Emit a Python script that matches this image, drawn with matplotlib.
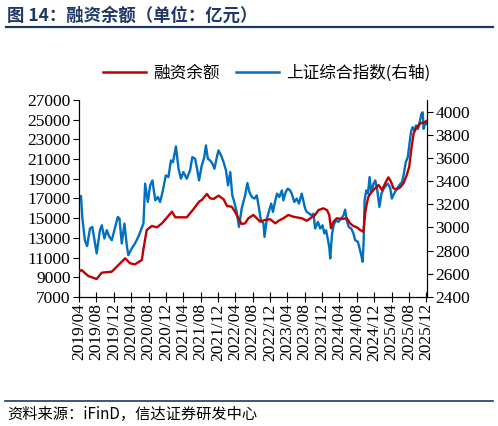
import matplotlib.pyplot as plt
import matplotlib.dates as mdates
import pandas as pd
from matplotlib.lines import Line2D

plt.rcParams['font.family'] = ['Liberation Serif', 'Noto Sans CJK SC']
CJK = ['Noto Sans CJK SC', 'DejaVu Sans']

# --- data ---
# 融资余额 (亿元), left axis
margin_dates = [
    "2019-04-01", "2019-04-19", "2019-06-05", "2019-08-03", "2019-09-08", "2019-11-17",
    "2020-01-03", "2020-02-19", "2020-03-24", "2020-04-28", "2020-06-15", "2020-06-25",
    "2020-07-19", "2020-08-24", "2020-09-28", "2020-11-03", "2021-01-12", "2021-02-05",
    "2021-04-26", "2021-06-11", "2021-07-21", "2021-08-09", "2021-09-14", "2021-10-07",
    "2021-10-30", "2021-12-05", "2022-01-09", "2022-02-02", "2022-03-07", "2022-03-30",
    "2022-04-23", "2022-05-16", "2022-06-09", "2022-07-02", "2022-08-06", "2022-08-30",
    "2022-09-22", "2022-10-27", "2022-12-02", "2023-01-07", "2023-01-30", "2023-03-04",
    "2023-04-08", "2023-05-13", "2023-07-11", "2023-08-16", "2023-09-09", "2023-10-13",
    "2023-11-06", "2023-12-10", "2024-01-04", "2024-01-20", "2024-02-01", "2024-02-19",
    "2024-03-13", "2024-04-17", "2024-05-22", "2024-06-14", "2024-07-07", "2024-08-01",
    "2024-08-24", "2024-09-16", "2024-09-28", "2024-10-10", "2024-10-21", "2024-11-14",
    "2024-12-07", "2024-12-31", "2025-01-24", "2025-02-21", "2025-03-10", "2025-03-28",
    "2025-04-14", "2025-05-08", "2025-06-01", "2025-06-24", "2025-07-17", "2025-08-03",
    "2025-08-17", "2025-09-03", "2025-09-27", "2025-10-20", "2025-11-12", "2025-12-05",
]
margin_vals = [
    9570, 9740, 9130, 8830, 9470, 9570,
    10250, 10930, 10420, 10320, 10760, 11770,
    13800, 14210, 14070, 14480, 15660, 15090,
    15090, 15900, 16680, 16850, 17460, 17020,
    16950, 17290, 16920, 16240, 16170, 15660,
    14990, 14410, 14480, 14990, 15330, 14990,
    14650, 14820, 14890, 14480, 14740, 14990,
    15330, 15150, 14990, 14740, 14990, 15330,
    15830, 16000, 15830, 15330, 13980, 14650,
    14990, 14920, 14990, 14480, 14210, 14070,
    13800, 13630, 15500, 16510, 17190, 17690,
    18040, 18370, 17860, 18710, 19150, 18710,
    18040, 17930, 18140, 18540, 19390, 20230,
    21920, 23620, 24290, 24630, 24700, 24900,
]

# 上证综合指数, right axis
index_dates = [
    "2019-04-01", "2019-04-15", "2019-04-24", "2019-05-12", "2019-05-28", "2019-06-17",
    "2019-07-03", "2019-07-17", "2019-08-03", "2019-08-26", "2019-09-08", "2019-09-26",
    "2019-10-13", "2019-10-31", "2019-11-17", "2019-12-05", "2019-12-29", "2020-01-10",
    "2020-01-26", "2020-02-14", "2020-03-01", "2020-03-12", "2020-04-05", "2020-04-28",
    "2020-05-21", "2020-06-08", "2020-06-26", "2020-07-08", "2020-07-27", "2020-08-12",
    "2020-08-28", "2020-09-17", "2020-10-05", "2020-10-21", "2020-11-07", "2020-11-30",
    "2020-12-18", "2021-01-05", "2021-01-19", "2021-02-09", "2021-02-27", "2021-03-16",
    "2021-04-02", "2021-04-26", "2021-05-19", "2021-06-04", "2021-06-23", "2021-07-05",
    "2021-07-21", "2021-08-09", "2021-08-27", "2021-09-07", "2021-09-21", "2021-10-07",
    "2021-10-23", "2021-11-06", "2021-11-23", "2021-12-04", "2021-12-23", "2022-01-09",
    "2022-01-26", "2022-02-09", "2022-02-25", "2022-03-11", "2022-03-25", "2022-04-11",
    "2022-04-27", "2022-05-16", "2022-06-09", "2022-06-25", "2022-07-09", "2022-07-26",
    "2022-08-14", "2022-08-30", "2022-09-11", "2022-09-28", "2022-10-16", "2022-10-23",
    "2022-11-09", "2022-11-25", "2022-12-09", "2022-12-21", "2023-01-07", "2023-01-19",
    "2023-02-04", "2023-02-22", "2023-03-04", "2023-03-21", "2023-04-04", "2023-04-20",
    "2023-05-02", "2023-05-20", "2023-06-06", "2023-06-22", "2023-07-11", "2023-07-22",
    "2023-08-04", "2023-08-16", "2023-09-02", "2023-09-16", "2023-10-02", "2023-10-13",
    "2023-11-02", "2023-11-18", "2023-12-04", "2023-12-17", "2023-12-29", "2024-01-11",
    "2024-01-20", "2024-01-27", "2024-02-09", "2024-02-20", "2024-03-06", "2024-03-24",
    "2024-04-13", "2024-04-29", "2024-05-11", "2024-05-22", "2024-06-04", "2024-06-22",
    "2024-07-08", "2024-07-20", "2024-08-08", "2024-08-17", "2024-08-29", "2024-09-10",
    "2024-09-17", "2024-09-24", "2024-10-06", "2024-10-18", "2024-10-29", "2024-11-10",
    "2024-11-26", "2024-12-08", "2024-12-22", "2025-01-06", "2025-01-20", "2025-02-05",
    "2025-02-22", "2025-03-06", "2025-03-22", "2025-04-03", "2025-04-19", "2025-05-08",
    "2025-05-24", "2025-06-13", "2025-06-24", "2025-07-10", "2025-07-24", "2025-08-03",
    "2025-08-15", "2025-08-26", "2025-09-08", "2025-09-20", "2025-10-04", "2025-10-13",
    "2025-10-27", "2025-11-05", "2025-11-12", "2025-11-24", "2025-12-05",
]
index_vals = [
    3263, 3272, 3091, 2890, 2839, 2991,
    3005, 2905, 2776, 2976, 3019, 2905,
    2976, 2919, 2890, 2976, 3091, 3077,
    2862, 3034, 2847, 2761, 2819, 2862,
    2919, 2976, 3034, 3378, 3220, 3363,
    3406, 3234, 3263, 3220, 3306, 3449,
    3435, 3578, 3564, 3699, 3507, 3421,
    3478, 3421, 3492, 3607, 3593, 3521,
    3406, 3535, 3607, 3708, 3593, 3578,
    3550, 3507, 3607, 3665, 3621, 3564,
    3492, 3363, 3478, 3277, 3220, 3134,
    3005, 3163, 3277, 3383, 3306, 3263,
    3249, 3277, 3191, 3062, 3034, 2919,
    3077, 3148, 3206, 3134, 3234, 3292,
    3263, 3320, 3234, 3306, 3335, 3320,
    3292, 3220, 3249, 3206, 3292, 3234,
    3163, 3134, 3120, 3105, 3120, 2991,
    3048, 2991, 3019, 2948, 2976, 2890,
    2833, 2733, 2948, 3019, 3062, 3048,
    3077, 3105, 3154, 3062, 3005, 2991,
    2948, 2890, 2876, 2833, 2776, 2704,
    2862, 3234, 3320, 3292, 3435, 3306,
    3378, 3406, 3320, 3177, 3292, 3335,
    3363, 3378, 3344, 3249, 3292, 3335,
    3363, 3392, 3449, 3564, 3607, 3708,
    3822, 3865, 3837, 3880, 3851, 3894,
    3980, 3994, 3851, 3908, 3894,
]

left_ticks = list(range(7000, 27001, 2000))
right_ticks = list(range(2400, 4001, 200))

RED = "#C00000"
BLUE = "#0070C0"
NAVY = "#1F3864"

fig = plt.figure(figsize=(4.98, 4.26), dpi=100)
ax = fig.add_axes([0.1586, 0.3028, 0.6995, 0.4625])
ax2 = ax.twinx()

ax.plot(pd.to_datetime(margin_dates), margin_vals, color=RED, lw=1.7, zorder=3)
ax2.plot(pd.to_datetime(index_dates), index_vals, color=BLUE, lw=1.7)
ax.set_zorder(ax2.get_zorder() + 1)
ax.patch.set_visible(False)

ax.set_xlim(pd.Timestamp("2019-04-01"), pd.Timestamp("2025-12-08"))
ax.set_ylim(7000, 27000)
ax2.set_ylim(2400, 4100)
ax.set_yticks(left_ticks)
ax2.set_yticks(right_ticks)

ax.xaxis.set_major_locator(mdates.MonthLocator(bymonth=[4, 8, 12]))
ax.xaxis.set_major_formatter(mdates.DateFormatter("%Y/%m"))
ax.tick_params(axis="x", direction="inout", length=7, width=0.8, labelsize=12.5,
               labelrotation=90, pad=1)
ax.tick_params(axis="y", direction="out", length=4, width=0.8, labelsize=12.5, pad=2)
ax2.tick_params(axis="y", direction="out", length=4, width=0.8, labelsize=12.5, pad=2)

for a in (ax, ax2):
    a.spines["top"].set_visible(False)
    for s in ("left", "right", "bottom"):
        a.spines[s].set_linewidth(0.8)

# legend
handles = [Line2D([], [], color=RED, lw=1.8), Line2D([], [], color=BLUE, lw=1.8)]
fig.legend(handles, ["融资余额", "上证综合指数(右轴)"], loc="center",
           bbox_to_anchor=(0.535, 0.829), ncol=2, frameon=False,
           prop={"family": CJK, "size": 12}, handlelength=2.6,
           handletextpad=0.4, columnspacing=1.0)

# title and source
fig.text(0.014, 0.964, "图 14：融资余额（单位：亿元）", family=CJK, fontsize=12.5,
         fontweight="bold", color=NAVY, va="center", ha="left")
fig.add_artist(Line2D([0.012, 0.99], [0.937, 0.937], color=NAVY, lw=1.6))
fig.add_artist(Line2D([0.01, 0.99], [0.059, 0.059], color=NAVY, lw=1.2))
fig.text(0.014, 0.027, "资料来源：iFinD，信达证券研发中心", family=CJK, fontsize=11,
         style="italic", color="black", va="center", ha="left")

fig.savefig("out.png", dpi=100)
